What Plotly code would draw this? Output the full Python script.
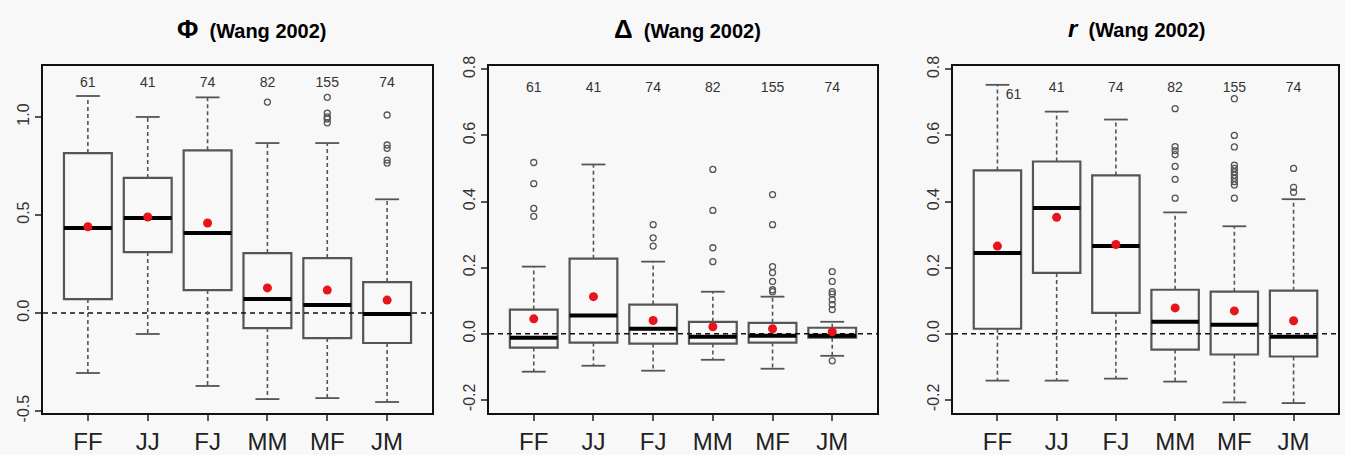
import plotly.graph_objects as go

categories = ["FF", "JJ", "FJ", "MM", "MF", "JM"]
counts = [61, 41, 74, 82, 155, 74]

# Phi panel
phi_lower = [-0.306, -0.107, -0.372, -0.439, -0.434, -0.454]
phi_q1 = [0.071, 0.311, 0.117, -0.077, -0.128, -0.153]
phi_median = [0.434, 0.485, 0.408, 0.071, 0.041, -0.005]
phi_q3 = [0.816, 0.689, 0.830, 0.306, 0.280, 0.158]
phi_upper = [1.107, 1.000, 1.100, 0.867, 0.867, 0.580]
phi_mean = [0.440, 0.490, 0.459, 0.128, 0.117, 0.066]
phi_outliers = [[], [], [], [1.076], [1.10, 1.02, 1.00, 0.99, 0.97],
                [1.01, 0.857, 0.84, 0.78, 0.765]]

# Delta panel
delta_lower = [-0.115, -0.097, -0.112, -0.079, -0.106, -0.067]
delta_q1 = [-0.042, -0.027, -0.030, -0.030, -0.027, -0.012]
delta_median = [-0.012, 0.055, 0.015, -0.009, -0.006, -0.006]
delta_q3 = [0.073, 0.227, 0.088, 0.036, 0.033, 0.018]
delta_upper = [0.203, 0.512, 0.218, 0.127, 0.112, 0.036]
delta_mean = [0.045, 0.112, 0.040, 0.021, 0.015, 0.006]
delta_outliers = [[0.518, 0.454, 0.379, 0.355], [], [0.33, 0.29, 0.265],
                  [0.497, 0.373, 0.26, 0.218],
                  [0.421, 0.33, 0.203, 0.185, 0.158, 0.133, 0.127],
                  [0.188, 0.158, 0.127, 0.12, 0.103, 0.088, 0.073, -0.082]]

# r panel
r_lower = [-0.142, -0.142, -0.136, -0.145, -0.208, -0.210]
r_q1 = [0.015, 0.184, 0.063, -0.048, -0.063, -0.069]
r_median = [0.244, 0.380, 0.265, 0.036, 0.027, -0.009]
r_q3 = [0.494, 0.521, 0.479, 0.133, 0.127, 0.130]
r_upper = [0.753, 0.672, 0.648, 0.367, 0.325, 0.407]
r_mean = [0.265, 0.352, 0.270, 0.078, 0.069, 0.039]
r_outliers = [[], [], [], [0.681, 0.566, 0.554, 0.542, 0.506, 0.467, 0.41],
              [0.711, 0.60, 0.565, 0.51, 0.50, 0.49, 0.48, 0.47, 0.46, 0.45, 0.41],
              [0.50, 0.443, 0.428]]

phi_ticks = [-0.5, 0.0, 0.5, 1.0]
delta_ticks = [-0.2, 0.0, 0.2, 0.4, 0.6, 0.8]
r_ticks = [-0.2, 0.0, 0.2, 0.4, 0.6, 0.8]

panels = [
    dict(lower=phi_lower, q1=phi_q1, med=phi_median, q3=phi_q3, upper=phi_upper,
         mean=phi_mean, out=phi_outliers, ticks=phi_ticks, yrange=[-0.51, 1.26],
         count_y=1.17, count_dx=[0] * 6, count_dy=[0] * 6,
         domain=[43 / 1345, 432 / 1345],
         title="<span style='font-size:26px'><b>Φ</b></span>  <b>(Wang 2002)</b>",
         title_x=252 / 1345),
    dict(lower=delta_lower, q1=delta_q1, med=delta_median, q3=delta_q3, upper=delta_upper,
         mean=delta_mean, out=delta_outliers, ticks=delta_ticks, yrange=[-0.24, 0.81],
         count_y=0.742, count_dx=[0] * 6, count_dy=[0] * 6,
         domain=[489 / 1345, 877 / 1345],
         title="<span style='font-size:26px'><b>Δ</b></span>  <b>(Wang 2002)</b>",
         title_x=687 / 1345),
    dict(lower=r_lower, q1=r_q1, med=r_median, q3=r_q3, upper=r_upper,
         mean=r_mean, out=r_outliers, ticks=r_ticks, yrange=[-0.24, 0.81],
         count_y=0.742, count_dx=[0.27, 0, 0, 0, 0, 0], count_dy=[-0.02, 0, 0, 0, 0, 0],
         domain=[953 / 1345, 1338 / 1345],
         title="<span style='font-size:24px'><b><i>r</i></b></span>  <b>(Wang 2002)</b>",
         title_x=1137 / 1345),
]

FONT = "Liberation Sans, Arial, sans-serif"
BG = "#f8f8f8"
BOXW = 0.8
CAPW = 0.4

fig = go.Figure()
positions = list(range(1, len(categories) + 1))

for i, p in enumerate(panels):
    xa = "x" if i == 0 else f"x{i + 1}"
    ya = "y" if i == 0 else f"y{i + 1}"

    # zero reference line
    fig.add_trace(go.Scatter(x=[0.25, 6.75], y=[0, 0], mode="lines",
                             line=dict(color="#111", width=1.6, dash="5px,4px"),
                             xaxis=xa, yaxis=ya, showlegend=False, hoverinfo="skip"))

    # whiskers (dashed)
    wx, wy = [], []
    for k, pos in enumerate(positions):
        wx += [pos, pos, None, pos, pos, None]
        wy += [p["q3"][k], p["upper"][k], None, p["q1"][k], p["lower"][k], None]
    fig.add_trace(go.Scatter(x=wx, y=wy, mode="lines",
                             line=dict(color="#555", width=1.6, dash="4px,3px"),
                             xaxis=xa, yaxis=ya, showlegend=False, hoverinfo="skip"))
    # caps
    cx, cy = [], []
    for k, pos in enumerate(positions):
        for v in (p["upper"][k], p["lower"][k]):
            cx += [pos - CAPW / 2, pos + CAPW / 2, None]
            cy += [v, v, None]
    fig.add_trace(go.Scatter(x=cx, y=cy, mode="lines",
                             line=dict(color="#555", width=1.8),
                             xaxis=xa, yaxis=ya, showlegend=False, hoverinfo="skip"))

    # boxes
    fig.add_trace(go.Box(x=positions, q1=p["q1"], median=p["med"], q3=p["q3"],
                         lowerfence=p["q1"], upperfence=p["q3"],
                         width=BOXW, boxpoints=False, whiskerwidth=0,
                         fillcolor="rgba(0,0,0,0)",
                         line=dict(color="#555", width=2.2),
                         xaxis=xa, yaxis=ya, showlegend=False, hoverinfo="skip"))
    # thick medians
    mx, my = [], []
    for k, pos in enumerate(positions):
        mx += [pos - BOXW / 2, pos + BOXW / 2, None]
        my += [p["med"][k], p["med"][k], None]
    fig.add_trace(go.Scatter(x=mx, y=my, mode="lines",
                             line=dict(color="#000", width=4),
                             xaxis=xa, yaxis=ya, showlegend=False, hoverinfo="skip"))

    # outliers
    ox, oy = [], []
    for k, pos in enumerate(positions):
        for v in p["out"][k]:
            ox.append(pos)
            oy.append(v)
    fig.add_trace(go.Scatter(x=ox, y=oy, mode="markers",
                             marker=dict(symbol="circle-open", size=6, color="#555",
                                         line=dict(width=1.3)),
                             xaxis=xa, yaxis=ya, showlegend=False, hoverinfo="skip"))
    # means
    fig.add_trace(go.Scatter(x=positions, y=p["mean"], mode="markers",
                             marker=dict(symbol="circle", size=9, color="#e8141b"),
                             xaxis=xa, yaxis=ya, showlegend=False, hoverinfo="skip"))
    # counts
    fig.add_trace(go.Scatter(x=[pos + d for pos, d in zip(positions, p["count_dx"])],
                             y=[p["count_y"] + d for d in p["count_dy"]],
                             text=[str(c) for c in counts], mode="text",
                             textfont=dict(family=FONT, size=14, color="#333"),
                             xaxis=xa, yaxis=ya, showlegend=False, hoverinfo="skip"))

    axis_common = dict(showline=True, linecolor="#111", linewidth=2, mirror=True,
                       showgrid=False, zeroline=False, ticks="outside",
                       tickcolor="#555", ticklen=6, tickwidth=1.5, automargin=False)
    fig.layout[("xaxis" if i == 0 else f"xaxis{i + 1}")] = dict(
        domain=p["domain"], range=[0.25, 6.75], anchor=ya,
        tickvals=positions, ticktext=categories,
        tickfont=dict(family=FONT, size=24, color="#222"), **axis_common)
    fig.layout[("yaxis" if i == 0 else f"yaxis{i + 1}")] = dict(
        domain=[1 - 413 / 455, 1 - 66 / 455], range=p["yrange"], anchor=xa,
        tickvals=p["ticks"], ticktext=[f"{t:.1f}" for t in p["ticks"]],
        tickangle=-90, tickfont=dict(family=FONT, size=16, color="#333"),
        **axis_common)

    fig.add_annotation(x=p["title_x"], y=1 - 29 / 455, xref="paper", yref="paper",
                       text=p["title"], showarrow=False,
                       font=dict(family=FONT, size=20, color="#000"),
                       xanchor="center", yanchor="middle")

fig.update_layout(width=1345, height=455, margin=dict(l=0, r=0, t=0, b=0),
                  paper_bgcolor=BG, plot_bgcolor=BG, boxmode="overlay",
                  showlegend=False, font=dict(family=FONT))

fig.write_html("out.html", config={"displayModeBar": False},
               post_script="document.body.style.margin='0';"
                           "document.body.style.background='#f8f8f8';")
